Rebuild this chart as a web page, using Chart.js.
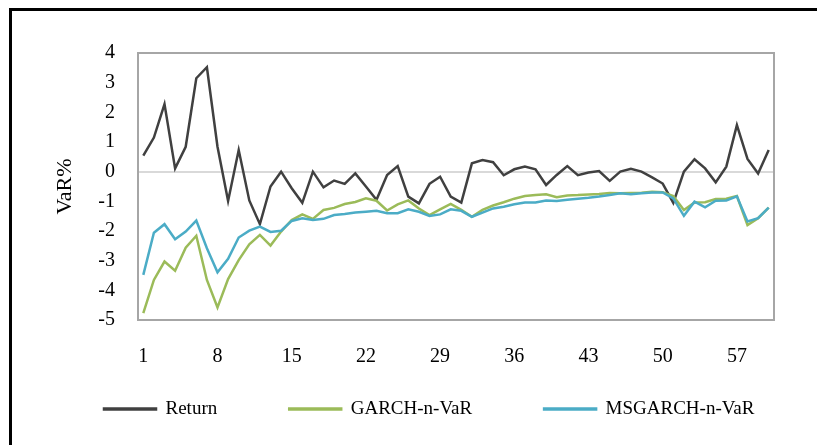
<!DOCTYPE html>
<html>
<head>
<meta charset="utf-8">
<script src="https://cdn.jsdelivr.net/npm/chart.js@4.4.1/dist/chart.umd.min.js"></script>
<style>
  html, body { margin: 0; padding: 0; background: #fff; }
  #wrap { width: 817px; height: 445px; position: relative; }
</style>
</head>
<body>
<div id="wrap"><canvas id="varChart"></canvas></div>
<script>
// Datos
const periodos = ['1','2','3','4','5','6','7','8','9','10','11','12','13','14','15','16','17','18','19','20',
  '21','22','23','24','25','26','27','28','29','30','31','32','33','34','35','36','37','38','39','40',
  '41','42','43','44','45','46','47','48','49','50','51','52','53','54','55','56','57','58','59','60'];
const etiquetasX = ['1','8','15','22','29','36','43','50','57'];

const retorno = [0.54, 1.15, 2.28, 0.11, 0.84, 3.15, 3.52, 0.84, -0.99, 0.73,
  -0.97, -1.77, -0.50, 0.00, -0.56, -1.05, 0.00, -0.53, -0.30, -0.41,
  -0.06, -0.50, -0.95, -0.11, 0.19, -0.84, -1.07, -0.41, -0.17, -0.84,
  -1.04, 0.28, 0.39, 0.32, -0.12, 0.08, 0.17, 0.08, -0.45, -0.11,
  0.19, -0.12, -0.03, 0.02, -0.31, 0.00, 0.10, 0.00, -0.19, -0.40,
  -1.05, 0.00, 0.42, 0.11, -0.36, 0.17, 1.57, 0.43, -0.06, 0.73];

const garchVaR = [-4.77, -3.65, -3.03, -3.34, -2.56, -2.16, -3.65, -4.58, -3.62, -2.98,
  -2.45, -2.13, -2.49, -2.02, -1.63, -1.44, -1.59, -1.29, -1.22, -1.09,
  -1.02, -0.90, -0.98, -1.31, -1.10, -0.97, -1.24, -1.46, -1.27, -1.09,
  -1.29, -1.52, -1.29, -1.14, -1.03, -0.91, -0.82, -0.79, -0.76, -0.86,
  -0.80, -0.79, -0.77, -0.75, -0.72, -0.73, -0.72, -0.71, -0.68, -0.69,
  -0.82, -1.29, -1.04, -1.03, -0.92, -0.91, -0.82, -1.80, -1.57, -1.21];

const msgarchVaR = [-3.48, -2.06, -1.77, -2.28, -2.02, -1.65, -2.58, -3.39, -2.94, -2.22,
  -1.99, -1.85, -2.03, -1.99, -1.66, -1.57, -1.63, -1.59, -1.46, -1.43,
  -1.38, -1.35, -1.32, -1.40, -1.40, -1.27, -1.35, -1.49, -1.44, -1.27,
  -1.32, -1.52, -1.38, -1.24, -1.18, -1.10, -1.04, -1.04, -0.97, -0.99,
  -0.95, -0.91, -0.88, -0.84, -0.79, -0.73, -0.76, -0.73, -0.70, -0.70,
  -0.90, -1.49, -1.01, -1.20, -0.98, -0.97, -0.83, -1.68, -1.57, -1.21];

const nombres = ['Return', 'GARCH-n-VaR', 'MSGARCH-n-VaR'];
const colores = ['#404040', '#9BBB59', '#4BACC6'];

const fuente = "'Liberation Serif', 'Times New Roman', serif";

// Marco negro y borde del área de trazado
const marcoPlugin = {
  id: 'marco',
  beforeDraw(chart) {
    const ctx = chart.ctx;
    ctx.save();
    ctx.fillStyle = '#000';
    ctx.fillRect(9, 8, 3, 445);
    ctx.fillRect(9, 8, 817, 3);
    ctx.restore();
  },
  beforeDatasetsDraw(chart) {
    const a = chart.chartArea;
    const ctx = chart.ctx;
    ctx.save();
    ctx.strokeStyle = '#A6A6A6';
    ctx.lineWidth = 2;
    ctx.strokeRect(a.left, a.top, a.right - a.left, a.bottom - a.top);
    ctx.restore();
  }
};

// Leyenda: ajustar alto y posición
const leyendaPlugin = {
  id: 'leyendaPos',
  beforeInit(chart) {
    const lg = chart.legend;
    const fitOrig = lg.fit;
    lg.fit = function () {
      fitOrig.call(this);
      this.height = 75;
    };
    const drawOrig = lg.draw;
    lg.draw = function () {
      const pad = this.options.labels.padding;
      const l = this.left, r = this.right, t = this.top;
      this.left = 104 - pad;
      this.right = this.left + 1500;
      this.top = 399.5 - pad;
      drawOrig.call(this);
      this.left = l; this.right = r; this.top = t;
    };
  }
};

function initChart() {
  const ctx = document.getElementById('varChart').getContext('2d');
  new Chart(ctx, {
    type: 'line',
    data: {
      labels: periodos,
      datasets: [
        { label: nombres[0], data: retorno, borderColor: colores[0], backgroundColor: colores[0], order: 2 },
        { label: nombres[1], data: garchVaR, borderColor: colores[1], backgroundColor: colores[1], order: 1 },
        { label: nombres[2], data: msgarchVaR, borderColor: colores[2], backgroundColor: colores[2], order: 0 }
      ]
    },
    options: {
      responsive: false,
      animation: false,
      devicePixelRatio: 1,
      layout: { padding: { top: 53, right: 43, left: 0, bottom: 0 } },
      elements: {
        line: { borderWidth: 2.5, tension: 0 },
        point: { radius: 0 }
      },
      scales: {
        x: {
          offset: true,
          grid: { display: false, drawTicks: false },
          border: { display: false },
          afterFit(s) { s.height = 50; },
          ticks: {
            autoSkip: false,
            maxRotation: 0,
            padding: 25,
            color: '#000',
            font: { family: fuente, size: 20 },
            callback(v, i) {
              const t = periodos[i];
              return etiquetasX.includes(t) ? t : '';
            }
          }
        },
        y: {
          min: -5,
          max: 4,
          afterFit(s) { s.width = 138; },
          grid: {
            drawTicks: false,
            lineWidth: 2,
            color: c => (c.tick && c.tick.value === 0 ? '#D9D9D9' : 'rgba(0,0,0,0)')
          },
          border: { display: false },
          ticks: {
            stepSize: 1,
            padding: 23,
            color: '#000',
            font: { family: fuente, size: 20 }
          },
          title: {
            display: true,
            text: 'VaR%',
            color: '#000',
            padding: { top: 52, bottom: 0 },
            font: { family: fuente, size: 22 }
          }
        }
      },
      plugins: {
        tooltip: { enabled: false },
        legend: {
          position: 'bottom',
          align: 'start',
          labels: {
            boxWidth: 52,
            boxHeight: 1,
            padding: 72,
            color: '#000',
            font: { family: fuente, size: 19 },
            sort: (a, b) => a.datasetIndex - b.datasetIndex
          }
        }
      }
    },
    plugins: [marcoPlugin, leyendaPlugin]
  });
}

document.addEventListener('DOMContentLoaded', function () {
  const c = document.getElementById('varChart');
  c.width = 817;
  c.height = 445;
  initChart();
});
</script>
</body>
</html>
